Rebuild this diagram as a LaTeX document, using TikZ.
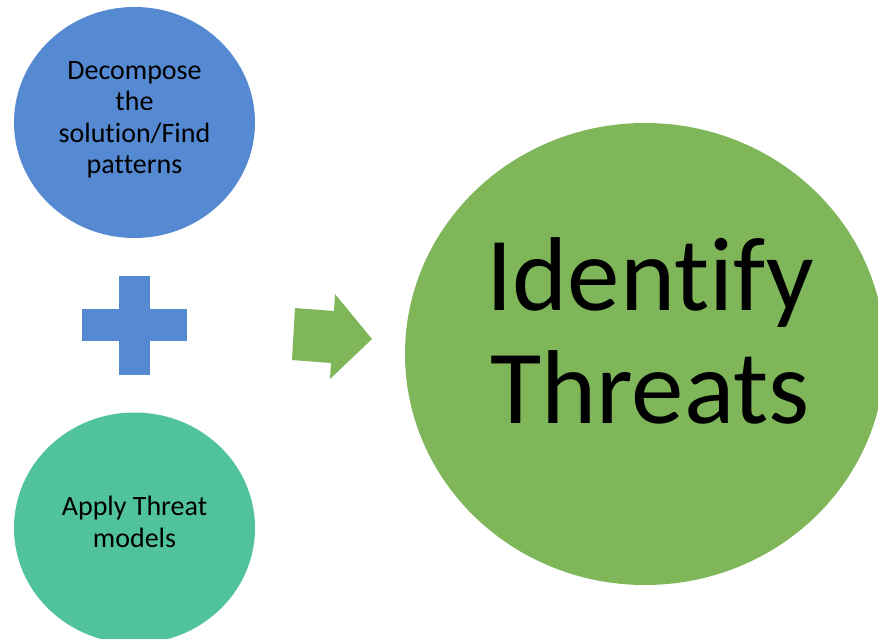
\documentclass[tikz,border=0pt]{standalone}
\usepackage{fontspec}
\setmainfont{Carlito}
\usepackage{xcolor}
\usepackage{tikz}
\usetikzlibrary{shapes.geometric, positioning}

\definecolor{stepblue}{HTML}{5589D1}
\definecolor{stepteal}{HTML}{50C29E}
\definecolor{stepgreen}{HTML}{7FB65A}

% keeps Carlito from joining t+i / t+t
\newcommand{\nolig}{\kern0pt{}}

\begin{document}
\begin{tikzpicture}[x=1pt, y=-1pt,
    bubble/.style={ellipse, inner sep=0pt,
      minimum width=241pt, minimum height=231pt},
    bubbletext/.style={align=center, font=\fontsize{28}{31.5}\selectfont},
    bigbubble/.style={ellipse, inner sep=0pt, fill=stepgreen,
      minimum width=480pt, minimum height=462pt}]
  % Page
  \useasboundingbox (0,0) rectangle (878,639);
  \clip (0,0) rectangle (878,639);

  % Inputs
  \node[bubble, fill=stepblue] (decompose) at (134.5,122.5) {};
  \node[bubbletext] (decomposelbl) at (134.5,120)
    {Decompose\\the\\solut\nolig ion/Find\\pat\nolig terns};
  \node[bubble, fill=stepteal] (apply) at (134.5,528) {};
  \node[bubbletext] (applylbl) at (134.5,522) {Apply Threat\\models};

  % Plus sign between them
  \fill[stepblue] (119,276) rectangle (150,375);
  \fill[stepblue] (82,309) rectangle (187,341);

  % Block arrow
  \fill[stepgreen] (295,308) -- (334,311) -- (335,294) -- (372,339)
    -- (330,379) -- (331,363) -- (292,360) -- cycle;

  % Result
  \node[bigbubble] (identify) at (645,354) {};
  \node[align=center, font=\fontsize{105}{113}\selectfont]
    (identifylbl) at (650,331) {Ident\nolig ify\\Threats};
\end{tikzpicture}
\end{document}
